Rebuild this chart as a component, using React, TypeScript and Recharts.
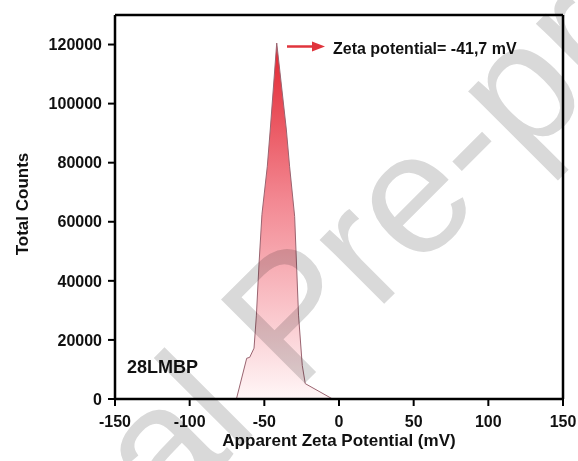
import React from 'react';
import { AreaChart, Area, XAxis, YAxis, ReferenceLine } from 'recharts';

// Zeta potential distribution of sample 28LMBP
const potentialMv = [-150, -68.7, -61.8, -59.8, -56.9, -55.3, -53.6, -51.6, -48.0, -46.0, -41.7, -35.3, -33.1, -29.7, -27.1, -24.6, -22.6, -4.3, 150];
const totalCounts = [0, 0, 13800, 14100, 17200, 28400, 45400, 62500, 78800, 91400, 120500, 91400, 78800, 61800, 28400, 11400, 5200, 0, 0];

const xTicks = [-150, -100, -50, 0, 50, 100, 150];
const yTicks = [0, 20000, 40000, 60000, 80000, 100000, 120000];

const data = potentialMv.map((mv, i) => ({ mv, counts: totalCounts[i] }));

const FONT = 'Arial, "Liberation Sans", Helvetica, sans-serif';
const W = 578;
const H = 461;

const tickStyle = { fill: '#111', fontSize: 16, fontWeight: 700, fontFamily: FONT };

const YTitle = (props: any) => {
  const vb = props.viewBox;
  const cy = vb.y + vb.height / 2 - 3;
  return (
    <text
      x={22}
      y={cy}
      transform={`rotate(-90 22 ${cy})`}
      textAnchor="middle"
      dominantBaseline="central"
      fontFamily={FONT}
      fontWeight={700}
      fontSize={17}
      fill="#111"
    >
      Total Counts
    </text>
  );
};

const App = () => {
  return (
    <div style={{ position: 'absolute', left: 0, top: 0, width: W, height: H, background: '#fff' }}>
      <AreaChart width={W} height={H} data={data} margin={{ top: 15, right: 15, left: 0, bottom: 0 }}>
        <defs>
          <linearGradient id="zetaFill" x1="0" y1="0" x2="0" y2="1">
            <stop offset="0%" stopColor="#e2242f" />
            <stop offset="45%" stopColor="#f38a94" />
            <stop offset="100%" stopColor="#fff6f7" />
          </linearGradient>
        </defs>
        <XAxis
          dataKey="mv"
          type="number"
          domain={[-150, 150]}
          ticks={xTicks}
          height={62}
          axisLine={{ stroke: '#000', strokeWidth: 2.5 }}
          tickLine={{ stroke: '#000', strokeWidth: 2 }}
          tickSize={7}
          tickMargin={10}
          tick={tickStyle}
          label={{
            value: 'Apparent Zeta Potential (mV)',
            position: 'insideBottom',
            offset: 15,
            fill: '#111',
            fontSize: 17,
            fontWeight: 700,
            fontFamily: FONT,
          }}
        />
        <YAxis
          type="number"
          domain={[0, 130000]}
          ticks={yTicks}
          width={115}
          axisLine={{ stroke: '#000', strokeWidth: 2.5 }}
          tickLine={{ stroke: '#000', strokeWidth: 2 }}
          tickSize={7}
          tickMargin={6}
          tick={tickStyle}
          label={YTitle}
        />
        <ReferenceLine y={130000} stroke="#000" strokeWidth={2.5} />
        <ReferenceLine x={150} stroke="#000" strokeWidth={2.5} />
        <Area
          type="linear"
          dataKey="counts"
          stroke="#9a6470"
          strokeWidth={1}
          fill="url(#zetaFill)"
          fillOpacity={1}
          isAnimationActive={false}
        />
      </AreaChart>
      <svg
        width={W}
        height={H}
        style={{ position: 'absolute', left: 0, top: 0, pointerEvents: 'none' }}
      >
        <line x1={287} y1={46.5} x2={314} y2={46.5} stroke="#e0343c" strokeWidth={2.5} />
        <polygon points="312,41.5 325,46.5 312,51.5" fill="#e0343c" />
        <text x={333} y={54} fontFamily={FONT} fontWeight={700} fontSize={16} fill="#111">
          Zeta potential= -41,7 mV
        </text>
        <text x={127} y={373} fontFamily={FONT} fontWeight={700} fontSize={18} fill="#111">
          28LMBP
        </text>
      </svg>
      {/* watermark layer, multiplied so dark text stays dark underneath */}
      <svg
        width={W}
        height={H}
        style={{ position: 'absolute', left: 0, top: 0, pointerEvents: 'none', mixBlendMode: 'multiply' }}
      >
        <text
          x={-138}
          y={826}
          transform="rotate(-45 -138 826)"
          fontFamily={FONT}
          fontSize={172}
          fill="#d9d9d9"
        >
          Journal Pre-proof
        </text>
      </svg>
    </div>
  );
};

export default App;
